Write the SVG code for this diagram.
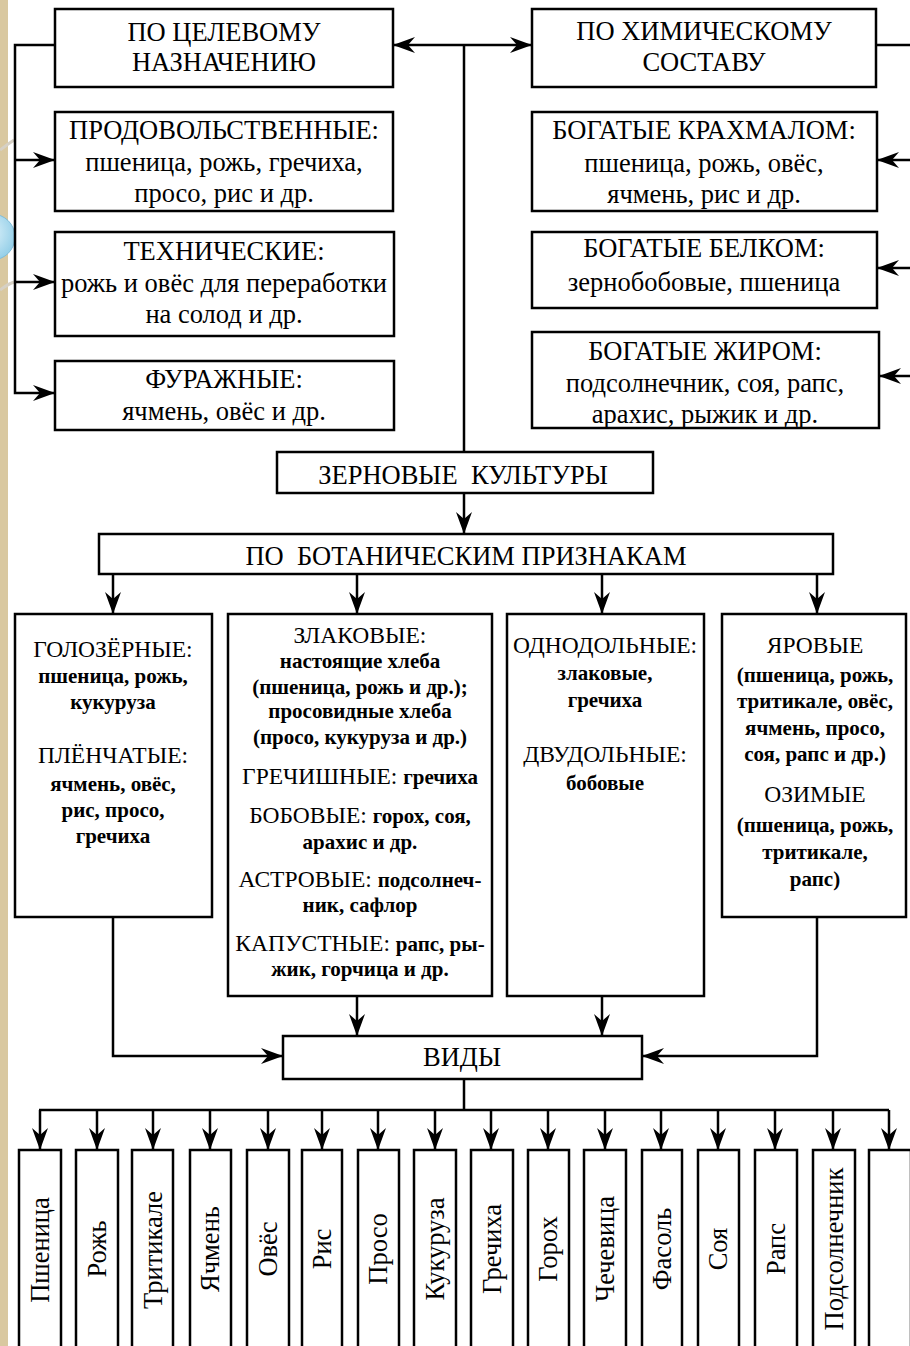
<svg xmlns="http://www.w3.org/2000/svg" width="910" height="1346" viewBox="0 0 910 1346">
<style>
.box{fill:#fff;stroke:#000;stroke-width:2.5}
.ln{fill:none;stroke:#000;stroke-width:2.5}
.ar{marker-end:url(#ah)}
text{font-family:"Liberation Serif","Times New Roman",serif;fill:#000;text-anchor:middle}
.big{font-size:26.5px}
.mid{font-size:23.5px}
.sm{font-size:21px;font-weight:bold}
.v{font-size:26.5px}
</style>
<defs>
<marker id="ah" markerWidth="24" markerHeight="18" refX="22" refY="9" orient="auto" markerUnits="userSpaceOnUse" viewBox="0 0 24 18"><path d="M22,9 L0,1 L7,9 L0,17 Z" fill="#000"/></marker>
<radialGradient id="bub" cx="0.4" cy="0.4" r="0.7"><stop offset="0" stop-color="#e6f6fc"/><stop offset="1" stop-color="#8ccbe6"/></radialGradient>
</defs>
<rect x="0" y="0" width="910" height="1346" fill="#fff"/>
<g id="decor">
<rect x="0" y="0" width="8" height="1346" fill="#d9c8a0"/>
<path d="M0,150 Q8,144 14,140" fill="none" stroke="#d6d0c4" stroke-width="3"/>
<path d="M0,290 Q8,284 14,282" fill="none" stroke="#d6d0c4" stroke-width="3"/>
<circle cx="-8" cy="237" r="23" fill="url(#bub)" stroke="#7fbcd8" stroke-width="1"/>
</g>
<g id="connectors">
<path class="ln ar" d="M55,45 H15 V393 H55"/>
<path class="ln ar" d="M15,160 H55"/>
<path class="ln ar" d="M15,282 H55"/>
<path class="ln ar" d="M464,45 H393"/>
<path class="ln ar" d="M464,45 H532"/>
<path class="ln" d="M464,45 V452"/>
<path class="ln" d="M876,45 H910"/>
<path class="ln ar" d="M912,160 H877"/>
<path class="ln ar" d="M912,268 H877"/>
<path class="ln ar" d="M912,376 H879"/>
<path class="ln ar" d="M464,493 V534"/>
<path class="ln ar" d="M113,574 V614"/>
<path class="ln ar" d="M357,574 V614"/>
<path class="ln ar" d="M602,574 V614"/>
<path class="ln ar" d="M817,574 V614"/>
<path class="ln ar" d="M113,917 V1056 H283"/>
<path class="ln ar" d="M357,996 V1036"/>
<path class="ln ar" d="M602,996 V1036"/>
<path class="ln ar" d="M817,917 V1056 H642"/>
<path class="ln" d="M464,1079 V1110 M39,1110 H889"/>
<path class="ln ar" d="M40,1110 V1150"/>
<path class="ln ar" d="M97,1110 V1150"/>
<path class="ln ar" d="M153,1110 V1150"/>
<path class="ln ar" d="M210,1110 V1150"/>
<path class="ln ar" d="M268,1110 V1150"/>
<path class="ln ar" d="M322,1110 V1150"/>
<path class="ln ar" d="M378,1110 V1150"/>
<path class="ln ar" d="M435,1110 V1150"/>
<path class="ln ar" d="M491,1110 V1150"/>
<path class="ln ar" d="M548,1110 V1150"/>
<path class="ln ar" d="M605,1110 V1150"/>
<path class="ln ar" d="M661,1110 V1150"/>
<path class="ln ar" d="M718,1110 V1150"/>
<path class="ln ar" d="M775,1110 V1150"/>
<path class="ln ar" d="M833,1110 V1150"/>
<path class="ln ar" d="M889,1110 V1150"/>
</g>
<g id="n-celevoe">
<rect class="box" x="55" y="9" width="338" height="78"/>
<text class="big" x="224" y="41">ПО ЦЕЛЕВОМУ</text>
<text class="big" x="224" y="71">НАЗНАЧЕНИЮ</text>
</g>
<g id="n-prodov">
<rect class="box" x="55" y="112" width="338" height="99"/>
<text class="big" x="224" y="139">ПРОДОВОЛЬСТВЕННЫЕ:</text>
<text class="big" x="224" y="171">пшеница, рожь, гречиха,</text>
<text class="big" x="224" y="202">просо, рис и др.</text>
</g>
<g id="n-tehn">
<rect class="box" x="55" y="232" width="339" height="104"/>
<text class="big" x="224" y="260">ТЕХНИЧЕСКИЕ:</text>
<text class="big" x="224" y="292">рожь и овёс для переработки</text>
<text class="big" x="224" y="323">на солод и др.</text>
</g>
<g id="n-furazh">
<rect class="box" x="55" y="361" width="339" height="69"/>
<text class="big" x="224" y="388">ФУРАЖНЫЕ:</text>
<text class="big" x="224" y="420">ячмень, овёс и др.</text>
</g>
<g id="n-him">
<rect class="box" x="532" y="9" width="344" height="78"/>
<text class="big" x="704" y="40">ПО ХИМИЧЕСКОМУ</text>
<text class="big" x="704" y="71">СОСТАВУ</text>
</g>
<g id="n-krahmal">
<rect class="box" x="532" y="112" width="345" height="99"/>
<text class="big" x="704" y="139">БОГАТЫЕ КРАХМАЛОМ:</text>
<text class="big" x="704" y="172">пшеница, рожь, овёс,</text>
<text class="big" x="704" y="203">ячмень, рис и др.</text>
</g>
<g id="n-belok">
<rect class="box" x="532" y="232" width="345" height="76"/>
<text class="big" x="704" y="257">БОГАТЫЕ БЕЛКОМ:</text>
<text class="big" x="704" y="291">зернобобовые, пшеница</text>
</g>
<g id="n-zhir">
<rect class="box" x="532" y="332" width="347" height="96"/>
<text class="big" x="705" y="360">БОГАТЫЕ ЖИРОМ:</text>
<text class="big" x="705" y="392">подсолнечник, соя, рапс,</text>
<text class="big" x="705" y="423">арахис, рыжик и др.</text>
</g>
<g id="n-zernovye">
<rect class="box" x="277" y="452" width="376" height="41"/>
<text class="big" x="463" y="484">ЗЕРНОВЫЕ&#160; КУЛЬТУРЫ</text>
</g>
<g id="n-botan">
<rect class="box" x="99" y="534" width="734" height="40"/>
<text class="big" x="466" y="565">ПО&#160; БОТАНИЧЕСКИМ ПРИЗНАКАМ</text>
</g>
<g id="n-golozer">
<rect class="box" x="15" y="614" width="197" height="303"/>
<text class="mid" x="113" y="657">ГОЛОЗЁРНЫЕ:</text>
<text class="sm" x="113" y="683">пшеница, рожь,</text>
<text class="sm" x="113" y="709">кукуруза</text>
<text class="mid" x="113" y="763">ПЛЁНЧАТЫЕ:</text>
<text class="sm" x="113" y="791">ячмень, овёс,</text>
<text class="sm" x="113" y="817">рис, просо,</text>
<text class="sm" x="113" y="843">гречиха</text>
</g>
<g id="n-zlak">
<rect class="box" x="228" y="614" width="264" height="382"/>
<text class="mid" x="360" y="643">ЗЛАКОВЫЕ:</text>
<text class="sm" x="360" y="668">настоящие хлеба</text>
<text class="sm" x="360" y="694">(пшеница, рожь и др.);</text>
<text class="sm" x="360" y="718">просовидные хлеба</text>
<text class="sm" x="360" y="744">(просо, кукуруза и др.)</text>
<text x="360" y="784"><tspan class="mid">ГРЕЧИШНЫЕ: </tspan><tspan class="sm">гречиха</tspan></text>
<text x="360" y="823"><tspan class="mid">БОБОВЫЕ: </tspan><tspan class="sm">горох, соя,</tspan></text>
<text class="sm" x="360" y="849">арахис и др.</text>
<text x="360" y="887"><tspan class="mid">АСТРОВЫЕ: </tspan><tspan class="sm">подсолнеч-</tspan></text>
<text class="sm" x="360" y="912">ник, сафлор</text>
<text x="360" y="951"><tspan class="mid">КАПУСТНЫЕ: </tspan><tspan class="sm">рапс, ры-</tspan></text>
<text class="sm" x="360" y="976">жик, горчица и др.</text>
</g>
<g id="n-dolnye">
<rect class="box" x="507" y="614" width="197" height="382"/>
<text class="mid" x="605" y="653">ОДНОДОЛЬНЫЕ:</text>
<text class="sm" x="605" y="680">злаковые,</text>
<text class="sm" x="605" y="707">гречиха</text>
<text class="mid" x="605" y="762">ДВУДОЛЬНЫЕ:</text>
<text class="sm" x="605" y="790">бобовые</text>
</g>
<g id="n-yarovye">
<rect class="box" x="722" y="614" width="184" height="303"/>
<text class="mid" x="815" y="653">ЯРОВЫЕ</text>
<text class="sm" x="815" y="682">(пшеница, рожь,</text>
<text class="sm" x="815" y="708">тритикале, овёс,</text>
<text class="sm" x="815" y="735">ячмень, просо,</text>
<text class="sm" x="815" y="761">соя, рапс и др.)</text>
<text class="mid" x="815" y="802">ОЗИМЫЕ</text>
<text class="sm" x="815" y="832">(пшеница, рожь,</text>
<text class="sm" x="815" y="859">тритикале,</text>
<text class="sm" x="815" y="886">рапс)</text>
</g>
<g id="n-vidy">
<rect class="box" x="283" y="1036" width="359" height="43"/>
<text class="big" x="462" y="1066">ВИДЫ</text>
</g>
<g id="n-species">
<rect class="box" x="19" y="1150" width="42" height="220"/>
<text class="v" transform="translate(49,1250) rotate(-90)">Пшеница</text>
<rect class="box" x="76" y="1150" width="42" height="220"/>
<text class="v" transform="translate(106,1249) rotate(-90)">Рожь</text>
<rect class="box" x="132" y="1150" width="41" height="220"/>
<text class="v" transform="translate(162,1250) rotate(-90)">Тритикале</text>
<rect class="box" x="190" y="1150" width="41" height="220"/>
<text class="v" transform="translate(219,1249) rotate(-90)">Ячмень</text>
<rect class="box" x="247" y="1150" width="42" height="220"/>
<text class="v" transform="translate(277,1249) rotate(-90)">Овёс</text>
<rect class="box" x="302" y="1150" width="40" height="220"/>
<text class="v" transform="translate(331,1249) rotate(-90)">Рис</text>
<rect class="box" x="358" y="1150" width="41" height="220"/>
<text class="v" transform="translate(387,1249) rotate(-90)">Просо</text>
<rect class="box" x="414" y="1150" width="42" height="220"/>
<text class="v" transform="translate(444,1249) rotate(-90)">Кукуруза</text>
<rect class="box" x="471" y="1150" width="42" height="220"/>
<text class="v" transform="translate(501,1249) rotate(-90)">Гречиха</text>
<rect class="box" x="528" y="1150" width="41" height="220"/>
<text class="v" transform="translate(557,1249) rotate(-90)">Горох</text>
<rect class="box" x="584" y="1150" width="42" height="220"/>
<text class="v" transform="translate(614,1249) rotate(-90)">Чечевица</text>
<rect class="box" x="642" y="1150" width="40" height="220"/>
<text class="v" transform="translate(671,1249) rotate(-90)">Фасоль</text>
<rect class="box" x="698" y="1150" width="41" height="220"/>
<text class="v" transform="translate(727,1249) rotate(-90)">Соя</text>
<rect class="box" x="755" y="1150" width="42" height="220"/>
<text class="v" transform="translate(785,1249) rotate(-90)">Рапс</text>
<rect class="box" x="813" y="1150" width="42" height="220"/>
<text class="v" transform="translate(843,1249) rotate(-90)">Подсолнечник</text>
<rect class="box" x="869" y="1150" width="42" height="220"/>
</g>
</svg>
